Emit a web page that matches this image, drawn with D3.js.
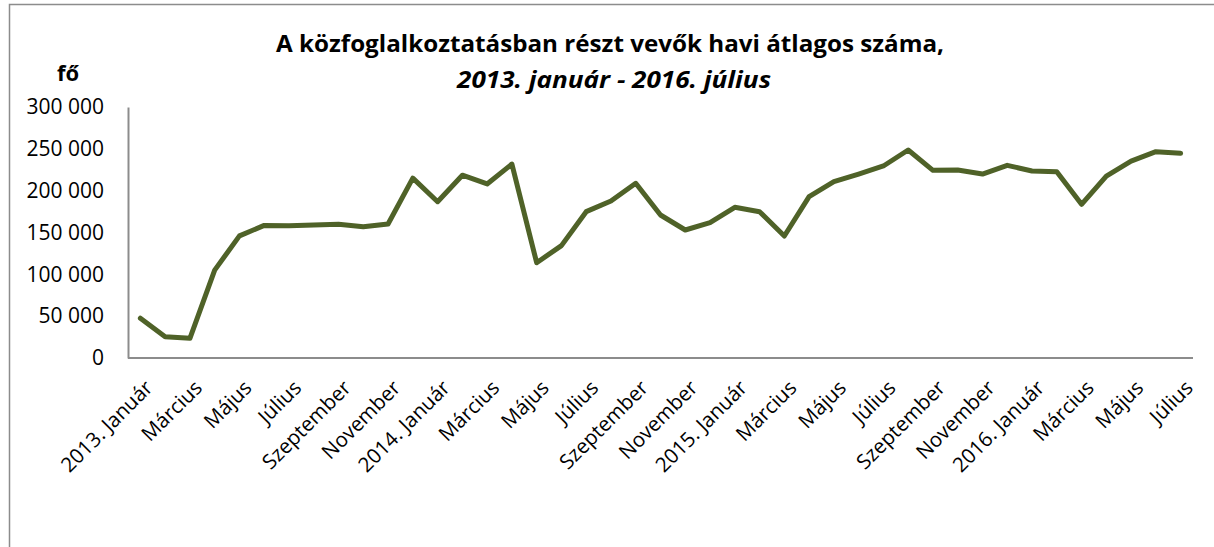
<!DOCTYPE html>
<html>
<head>
<meta charset="utf-8">
<script src="https://cdn.jsdelivr.net/npm/d3@7"></script>
<style>
  body { margin: 0; background: #fff; }
  svg { display: block; font-family: "Open Sans", sans-serif; }
</style>
</head>
<body>
<div id="chart"></div>
<script>
// Monthly averages, January 2013 to July 2016 (43 months).
const months = [
    "2013-01", "2013-02", "2013-03", "2013-04", "2013-05", "2013-06", "2013-07", "2013-08", "2013-09", "2013-10", "2013-11", "2013-12",
    "2014-01", "2014-02", "2014-03", "2014-04", "2014-05", "2014-06", "2014-07", "2014-08", "2014-09", "2014-10", "2014-11", "2014-12",
    "2015-01", "2015-02", "2015-03", "2015-04", "2015-05", "2015-06", "2015-07", "2015-08", "2015-09", "2015-10", "2015-11", "2015-12",
    "2016-01", "2016-02", "2016-03", "2016-04", "2016-05", "2016-06", "2016-07"
];
const participants = [
    47500, 25500, 23500, 105000, 146000, 158500, 158200, 159000, 159800, 157000, 160200, 215000,
    186800, 218500, 208000, 231800, 113900, 134300, 174900, 187600, 208800, 170900, 153000, 161700,
    180100, 174900, 145800, 192800, 210700, 219900, 229500, 248600, 224300, 224700, 219900, 230300,
    223500, 222700, 183700, 217500, 235400, 246600, 244600
];
// Only every second month carries a label.
const tickLabels = [
    "2013. Január", "Március", "Május", "Július", "Szeptember", "November",
    "2014. Január", "Március", "Május", "Július", "Szeptember", "November",
    "2015. Január", "Március", "Május", "Július", "Szeptember", "November",
    "2016. Január", "Március", "Május", "Július"
];
const yTicks = [0, 50000, 100000, 150000, 200000, 250000, 300000];

const WIDTH = 1214, HEIGHT = 547;
const MARGIN = { left: 128, right: 21, top: 107, bottom: 189 };
const INNER_WIDTH = WIDTH - MARGIN.left - MARGIN.right;
const INNER_HEIGHT = HEIGHT - MARGIN.top - MARGIN.bottom;

const data = months.map((m, i) => ({ month: m, value: participants[i] }));

const svg = d3.select("#chart")
    .append("svg")
    .attr("width", WIDTH)
    .attr("height", HEIGHT);

// Outer chart frame, open to the right and bottom like the source image.
svg.append("rect")
    .attr("x", 9.5)
    .attr("y", 4.5)
    .attr("width", WIDTH + 20)
    .attr("height", HEIGHT + 20)
    .attr("fill", "none")
    .attr("stroke", "#8c8c8c")
    .attr("stroke-width", 1.5);

const chart = svg.append("g")
    .attr("transform", `translate(${MARGIN.left}, ${MARGIN.top})`);

// Categories sit between tick marks, so a point scale with half-step padding.
const xScale = d3.scalePoint()
    .domain(months)
    .range([0, INNER_WIDTH])
    .padding(0.5);

const yScale = d3.scaleLinear()
    .domain([0, 300000])
    .range([INNER_HEIGHT, 0]);

const fmt = v => d3.format(",")(v).replace(/,/g, " ");

const yAxis = chart.append("g")
    .call(d3.axisLeft(yScale).tickValues(yTicks).tickFormat(fmt).tickSize(0).tickPadding(24));
yAxis.select(".domain").attr("stroke", "#8c8c8c").attr("stroke-width", 2);
yAxis.selectAll("text")
    .attr("fill", "#000")
    .style("font-size", "21px")
    .style("font-family", "'Open Sans', sans-serif");

const labelledMonths = months.filter((m, i) => i % 2 === 0);
const xAxis = chart.append("g")
    .attr("transform", `translate(0, ${INNER_HEIGHT})`)
    .call(d3.axisBottom(xScale).tickValues(labelledMonths).tickSize(0)
        .tickFormat((m, i) => tickLabels[i]));
xAxis.select(".domain")
    .attr("d", `M0,0H${INNER_WIDTH}`)
    .attr("stroke", "#8c8c8c")
    .attr("stroke-width", 2);
xAxis.selectAll("text")
    .attr("fill", "#000")
    .attr("text-anchor", "end")
    .attr("x", 0)
    .attr("y", 0)
    .attr("dy", "0.35em")
    .attr("transform", "translate(8, 26) rotate(-45)")
    .style("font-size", "20.5px")
    .style("font-family", "'Open Sans', sans-serif");

const lineGenerator = d3.line()
    .x(d => xScale(d.month))
    .y(d => yScale(d.value));

chart.append("path")
    .datum(data)
    .attr("fill", "none")
    .attr("stroke", "#4f6228")
    .attr("stroke-width", 5)
    .attr("stroke-linejoin", "round")
    .attr("stroke-linecap", "round")
    .attr("d", lineGenerator);

// Title in two lines; widths are pinned to the source layout.
svg.append("text")
    .attr("x", 610)
    .attr("y", 52)
    .attr("text-anchor", "middle")
    .attr("textLength", 668)
    .attr("lengthAdjust", "spacingAndGlyphs")
    .style("font-size", "23px")
    .style("font-weight", "700")
    .text("A közfoglalkoztatásban részt vevők havi átlagos száma,");

svg.append("text")
    .attr("x", 614)
    .attr("y", 88)
    .attr("text-anchor", "middle")
    .attr("textLength", 314)
    .attr("lengthAdjust", "spacingAndGlyphs")
    .style("font-size", "23px")
    .style("font-weight", "700")
    .style("font-style", "italic")
    .text("2013. január - 2016. július");

svg.append("text")
    .attr("x", 68)
    .attr("y", 81)
    .attr("text-anchor", "middle")
    .style("font-size", "22px")
    .style("font-weight", "700")
    .text("fő");
</script>
</body>
</html>
